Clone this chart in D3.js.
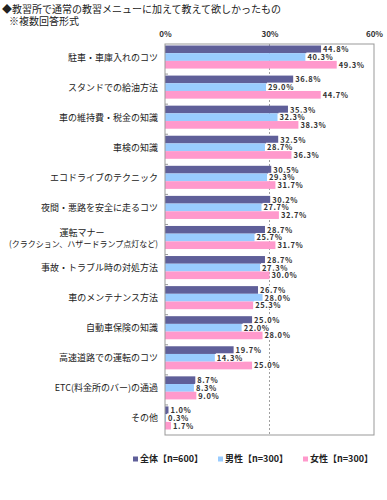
<!DOCTYPE html>
<html>
<head>
<meta charset="utf-8">
<script src="https://cdn.jsdelivr.net/npm/d3@7"></script>
<style>
  body { margin: 0; background: #fff; }
  text { font-family: "Noto Sans CJK JP", sans-serif; }
</style>
</head>
<body>
<svg id="chart"></svg>
<script>
// data
const categories = [
  ['駐車・車庫入れのコツ'],
  ['スタンドでの給油方法'],
  ['車の維持費・税金の知識'],
  ['車検の知識'],
  ['エコドライブのテクニック'],
  ['夜間・悪路を安全に走るコツ'],
  ['運転マナー', '(クラクション、ハザードランプ点灯など)'],
  ['事故・トラブル時の対処方法'],
  ['車のメンテナンス方法'],
  ['自動車保険の知識'],
  ['高速道路での運転のコツ'],
  ['ETC(料金所のバー)の通過'],
  ['その他']
];
const seriesNames = ['全体【n=600】', '男性【n=300】', '女性【n=300】'];
const totalValues = [44.8, 36.8, 35.3, 32.5, 30.5, 30.2, 28.7, 28.7, 26.7, 25.0, 19.7, 8.7, 1.0];
const maleValues = [40.3, 29.0, 32.3, 28.7, 29.3, 27.7, 25.7, 27.3, 28.0, 22.0, 14.3, 8.3, 0.3];
const femaleValues = [49.3, 44.7, 38.3, 36.3, 31.7, 32.7, 31.7, 30.0, 25.3, 28.0, 25.0, 9.0, 1.7];
const xTicks = [0, 30, 60];

const colors = ['#5f5f99', '#99ccff', '#ff99cc'];
const series = [totalValues, maleValues, femaleValues];

const width = 387, height = 500;
const margin = {top: 44, right: 13, bottom: 65, left: 165};
const innerW = width - margin.left - margin.right;
const innerH = height - margin.top - margin.bottom;

const svg = d3.select('#chart').attr('width', width).attr('height', height);

// title
svg.append('text').attr('x', 2).attr('y', 13)
  .attr('font-size', 10).attr('fill', '#222')
  .text('◆教習所で通常の教習メニューに加えて教えて欲しかったもの');
svg.append('text').attr('x', 9).attr('y', 25)
  .attr('font-size', 10).attr('fill', '#222')
  .text('※複数回答形式');

const g = svg.append('g').attr('transform', `translate(${margin.left},${margin.top})`);

const x = d3.scaleLinear().domain([0, 60]).range([0, innerW]);
const y = d3.scaleBand().domain(d3.range(categories.length)).range([0, innerH]);
const inner = d3.scaleBand().domain(d3.range(3)).range([1.5, y.bandwidth() - 5.5]);

// 30% dashed line
g.append('line')
  .attr('x1', x(30)).attr('x2', x(30)).attr('y1', 0).attr('y2', innerH)
  .attr('stroke', '#888').attr('stroke-dasharray', '2,2').attr('stroke-width', 0.8);

// bars
categories.forEach((c, i) => {
  const grp = g.append('g').attr('transform', `translate(0,${y(i)})`);
  series.forEach((vals, s) => {
    grp.append('rect')
      .attr('x', 0).attr('y', inner(s))
      .attr('width', x(vals[i])).attr('height', inner.bandwidth())
      .attr('fill', colors[s]);
  });
  series.forEach((vals, s) => {
    const label = vals[i].toFixed(1) + '%';
    const t = grp.append('text')
      .attr('x', x(vals[i]) + 2).attr('y', inner(s) + inner.bandwidth() / 2 + 3)
      .attr('font-size', 7.5).attr('font-weight', 'bold').attr('fill', '#333')
      .attr('font-family', '"DejaVu Sans Condensed", "DejaVu Sans", sans-serif')
      .attr('letter-spacing', 0.6)
      .text(label);
    const bb = t.node().getBBox();
    grp.insert('rect', () => t.node())
      .attr('x', bb.x - 1).attr('y', bb.y + 1.5).attr('width', bb.width + 2).attr('height', bb.height - 3)
      .attr('fill', '#fff');
  });
});

// frame
g.append('rect').attr('width', innerW).attr('height', innerH)
  .attr('fill', 'none').attr('stroke', '#999').attr('stroke-width', 1);

// category ticks on left axis
d3.range(1, categories.length).forEach(i => {
  g.append('line').attr('x1', 0).attr('x2', 3).attr('y1', y(i)).attr('y2', y(i))
    .attr('stroke', '#999');
});

// category labels
categories.forEach((c, i) => {
  const cy = y(i) + y.bandwidth() / 2 - 2;
  if (c.length === 1) {
    g.append('text').attr('x', -7).attr('y', cy + 3.5)
      .attr('text-anchor', 'end').attr('font-size', 9).attr('fill', '#222')
      .text(c[0]);
  } else {
    g.append('text').attr('x', -83).attr('y', cy - 2)
      .attr('text-anchor', 'middle').attr('font-size', 9).attr('fill', '#222')
      .text(c[0]);
    g.append('text').attr('x', -156).attr('y', cy + 9)
      .attr('font-size', 8.5).attr('fill', '#222')
      .attr('textLength', 149).attr('lengthAdjust', 'spacingAndGlyphs')
      .text(c[1]);
  }
});

// x axis labels at top
const xAxis = d3.axisTop(x).tickValues(xTicks).tickSize(0).tickFormat(d => d + '%');
const xg = g.append('g').call(xAxis);
xg.select('.domain').remove();
xg.selectAll('text')
  .attr('dy', -4)
  .attr('font-size', 8).attr('font-weight', 'bold').attr('fill', '#333')
  .attr('font-family', '"DejaVu Sans Condensed", "DejaVu Sans", sans-serif');

// legend
const legendX = [133, 218, 303];
seriesNames.forEach((n, s) => {
  const lg = svg.append('g').attr('transform', `translate(${legendX[s]},462)`);
  lg.append('rect').attr('x', 0).attr('y', -5.5).attr('width', 5).attr('height', 5).attr('fill', colors[s]);
  lg.append('text').attr('x', 7).attr('y', 0).attr('font-size', 9).attr('fill', '#222')
    .attr('font-weight', 'bold').text(n);
});
</script>
</body>
</html>
